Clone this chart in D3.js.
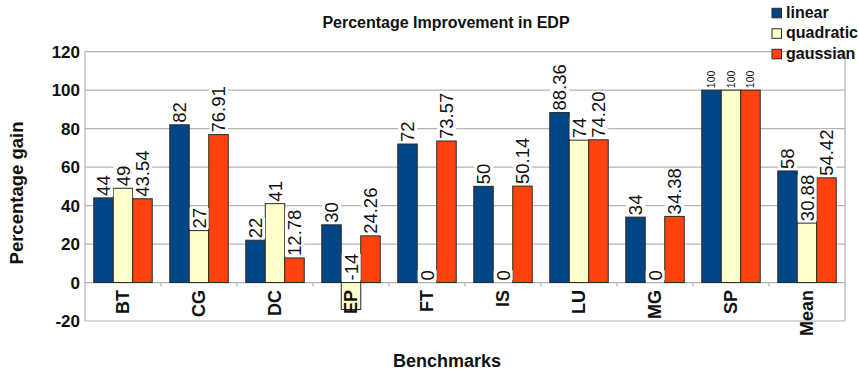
<!DOCTYPE html>
<html>
<head>
<meta charset="utf-8">
<script src="https://cdn.jsdelivr.net/npm/d3@7"></script>
<style>
  html, body { margin: 0; padding: 0; background: #fff; }
  svg { display: block; font-family: "Liberation Sans", Arial, sans-serif; }
</style>
</head>
<body>
<svg id="chart" width="859" height="372"></svg>
<script>
// Benchmarks and the three kernels' EDP improvement (%)
const categories = ["BT", "CG", "DC", "EP", "FT", "IS", "LU", "MG", "SP", "Mean"];
const seriesNames = ["linear", "quadratic", "gaussian"];
const linear    = [44, 82, 22, 30, 72, 50, 88.36, 34, 100, 58];
const quadratic = [49, 27, 41, -14, 0, 0, 74, 0, 100, 30.88];
const gaussian  = [43.54, 76.91, 12.78, 24.26, 73.57, 50.14, 74.20, 34.38, 100, 54.42];
const yTicks = [-20, 0, 20, 40, 60, 80, 100, 120];

const colors = { linear: "#004586", quadratic: "#ffffcc", gaussian: "#ff420e" };
const seriesValues = { linear, quadratic, gaussian };

// value label text: whole numbers plain, others with two decimals
const fmt = v => Number.isInteger(v) ? String(v) : v.toFixed(2);

const svg = d3.select("#chart");
const plot = { left: 85, right: 845, top: 51.7, bottom: 321 };

const x = d3.scaleBand().domain(categories).range([plot.left, plot.right]).padding(0);
const xs = d3.scaleBand().domain(seriesNames).range([0, x.bandwidth()]).paddingInner(0).paddingOuter(0.45);
const y = d3.scaleLinear().domain([-20, 120]).range([plot.bottom, plot.top]);

const grid = "#b3b3b3";

// horizontal grid lines
svg.append("g").selectAll("line").data(yTicks).join("line")
  .attr("x1", plot.left).attr("x2", plot.right)
  .attr("y1", d => y(d)).attr("y2", d => y(d))
  .attr("stroke", grid).attr("stroke-width", 1.2);

// plot frame sides
svg.append("line").attr("x1", plot.left).attr("x2", plot.left)
  .attr("y1", plot.top).attr("y2", plot.bottom).attr("stroke", grid).attr("stroke-width", 1.2);
svg.append("line").attr("x1", plot.right).attr("x2", plot.right)
  .attr("y1", plot.top).attr("y2", plot.bottom).attr("stroke", grid).attr("stroke-width", 1.2);

// category separator ticks on the zero line
svg.append("g").selectAll("line").data(categories.slice(1)).join("line")
  .attr("x1", d => x(d)).attr("x2", d => x(d))
  .attr("y1", y(0)).attr("y2", y(0) + 4)
  .attr("stroke", grid).attr("stroke-width", 1.2);

// y tick labels
svg.append("g").selectAll("text").data(yTicks).join("text")
  .attr("x", 80).attr("y", d => y(d)).attr("dy", "0.36em")
  .attr("text-anchor", "end")
  .attr("font-size", 17).attr("font-weight", "bold").attr("fill", "#111")
  .text(d => d);

// bars
const rows = [];
categories.forEach((c, i) => seriesNames.forEach(s => rows.push({ c, s, v: seriesValues[s][i] })));

const bars = svg.append("g");
bars.selectAll("rect").data(rows).join("rect")
  .attr("x", d => x(d.c) + xs(d.s))
  .attr("width", xs.bandwidth())
  .attr("y", d => y(Math.max(d.v, 0)))
  .attr("height", d => Math.abs(y(d.v) - y(0)))
  .attr("fill", d => colors[d.s])
  .attr("stroke", "#2a2a2a").attr("stroke-width", 1);

// value labels, rotated, with a white backing
const lbl = svg.append("g");
rows.forEach(d => {
  const cx = x(d.c) + xs(d.s) + xs.bandwidth() / 2;
  const base = y(Math.max(d.v, 0)) - 2;
  const g = lbl.append("g").attr("transform", `translate(${cx},${base}) rotate(-90)`);
  const bg = g.append("rect").attr("fill", "#fff");
  const t = g.append("text")
    .attr("x", 0).attr("y", 0).attr("dy", "0.36em")
    .attr("font-size", d.v >= 100 ? 10.5 : 18.5)
    .attr("fill", "#111")
    .text(fmt(d.v));
  const b = t.node().getBBox();
  bg.attr("x", b.x).attr("y", b.y + 1).attr("width", b.width).attr("height", b.height - 2);
});

// category labels
svg.append("g").selectAll("text").data(categories).join("text")
  .attr("transform", d => `translate(${x(d) + x.bandwidth() / 2},290) rotate(-90)`)
  .attr("dy", "0.36em")
  .attr("text-anchor", "end")
  .attr("font-size", 18).attr("font-weight", "bold").attr("fill", "#111")
  .text(d => d);

// titles
svg.append("text").attr("x", 446).attr("y", 28)
  .attr("text-anchor", "middle").attr("font-size", 16).attr("font-weight", "bold").attr("fill", "#111")
  .text("Percentage Improvement in EDP");
svg.append("text").attr("x", 447).attr("y", 367)
  .attr("text-anchor", "middle").attr("font-size", 18).attr("font-weight", "bold").attr("fill", "#111")
  .text("Benchmarks");
svg.append("text").attr("transform", "translate(23,193) rotate(-90)")
  .attr("text-anchor", "middle").attr("font-size", 18.5).attr("font-weight", "bold").attr("fill", "#111")
  .text("Percentage gain");

// legend
const leg = svg.append("g").selectAll("g").data(seriesNames).join("g")
  .attr("transform", (d, i) => `translate(772,${8.3 + i * 20.5})`);
leg.append("rect").attr("width", 9.5).attr("height", 9.5)
  .attr("fill", d => colors[d]).attr("stroke", "#2a2a2a").attr("stroke-width", 1);
leg.append("text").attr("x", 14).attr("y", 9.6)
  .attr("font-size", 16).attr("font-weight", "bold").attr("fill", "#111")
  .text(d => d);
</script>
</body>
</html>
